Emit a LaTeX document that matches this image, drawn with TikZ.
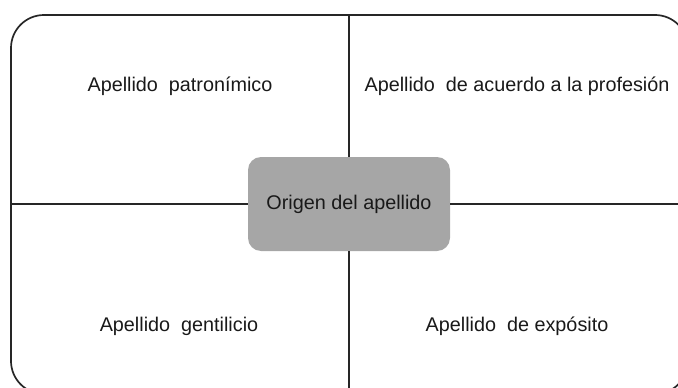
\documentclass[tikz,border=0pt]{standalone}
\usepackage{fontspec}
\setmainfont{Liberation Sans}
\definecolor{grisorigen}{HTML}{A6A6A6}

\begin{document}
\begin{tikzpicture}[x=1pt,y=-1pt,
		linea/.style={line width=1.7pt, color=black!85},
		etiqueta/.style={anchor=base, text=black!90, font=\fontsize{19.8}{23}\selectfont},
		origen/.style={fill=grisorigen, rounded corners=13pt, minimum width=202pt, minimum height=94pt, inner sep=0pt, text=black!90, font=\fontsize{19.8}{23}\selectfont}]
			\useasboundingbox (0,0) rectangle (678,388);
			% marco y sus bordes
			\coordinate (arriba) at (349,15);
			\coordinate (abajo) at (349,394);
			\coordinate (izq) at (11,204);
			\coordinate (der) at (688,204);
			\draw[linea, rounded corners=33pt] (11,15) rectangle (688,394);

			\node[origen] (ori) at (349,204) {Origen del apellido};
			\draw[linea] (ori) -- (arriba);
			\draw[linea] (ori) -- (abajo);
			\draw[linea] (ori) -- (izq);
			\draw[linea] (ori) -- (der);

			\node[etiqueta] (patro) at (180,91.5) {Apellido\ \ patronímico};
			\node[etiqueta] (prof) at (517,91.5) {Apellido\ \ de acuerdo a la profesión};
			\node[etiqueta] (genti) at (179,331.5) {Apellido\ \ gentilicio};
			\node[etiqueta] (expo) at (517,331.5) {Apellido\ \ de expósito};
		\end{tikzpicture}
\end{document}
